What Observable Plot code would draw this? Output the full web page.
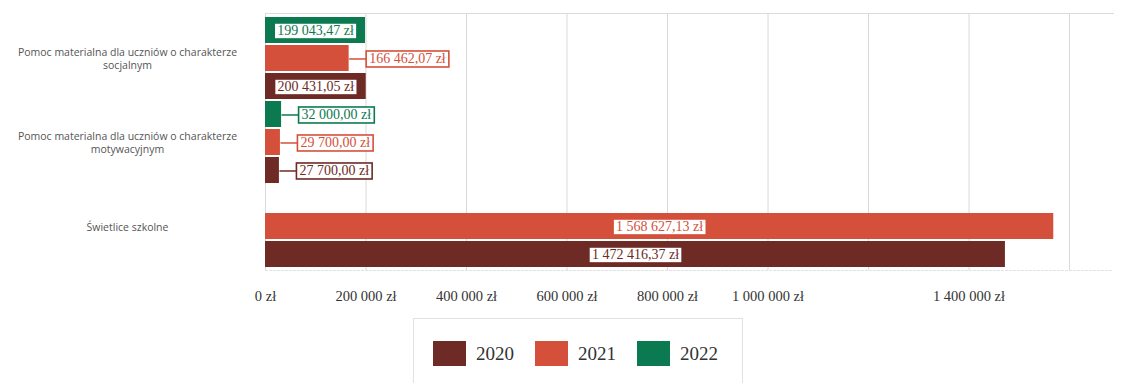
<!DOCTYPE html>
<html><head><meta charset="utf-8">
<script src="https://cdn.jsdelivr.net/npm/d3@7"></script>
<script src="https://cdn.jsdelivr.net/npm/@observablehq/plot@0.6"></script>
<style>
body{margin:0;background:#fff;}
#chart svg{display:block;}
#legend{margin-left:413px;margin-top:6px;width:330px;height:65px;border:1px solid #e2e2e2;border-bottom:none;box-sizing:border-box;position:relative;}
.item{position:absolute;top:22px;display:flex;align-items:center;}
.sw{width:33px;height:25px;margin-right:10px;}
.lab{font-family:"Liberation Serif",serif;font-size:19px;color:#333;}
</style></head><body><div id="chart"></div><div id="legend"></div>
<script>
const categories = [
  "Pomoc materialna dla uczniów o charakterze socjalnym",
  "Pomoc materialna dla uczniów o charakterze motywacyjnym",
  "Świetlice szkolne"
];
const categoryLabels = [
  "Pomoc materialna dla uczniów o charakterze\nsocjalnym",
  "Pomoc materialna dla uczniów o charakterze\nmotywacyjnym",
  "Świetlice szkolne"
];
const years = ["2020", "2021", "2022"];
const colors = ["#6e2a25", "#d4503a", "#0c7a50"];
const values2020 = [200431.05, 27700.00, 1472416.37];
const values2021 = [166462.07, 29700.00, 1568627.13];
const values2022 = [199043.47, 32000.00, 0];
const gridTicks = [0, 200000, 400000, 600000, 800000, 1000000, 1200000, 1400000, 1600000];
const tickLabelValues = [0, 200000, 400000, 600000, 800000, 1000000, 1400000];
const xMax = 1687500;

const W = 1123, H = 312, ML = 265, MR = 10, MT = 13, MB = 42, LEAD = 20;
const loc = d3.formatLocale({decimal: ",", thousands: " ", grouping: [3], currency: ["", " zł"]});
const fmtVal = v => loc.format(",.2f")(v) + " zł";
const fmtTick = v => loc.format(",d")(v) + " zł";

const series = {"2020": values2020, "2021": values2021, "2022": values2022};
const data = [];
categories.forEach((c, i) => {
  for (const y of years) data.push({cat: c, year: y, value: series[y][i], key: c + "|" + y});
});
const yDomain = [];
for (const c of categories) for (const y of ["2022", "2021", "2020"]) yDomain.push(c + "|" + y);

const pxPerUnit = (W - ML - MR) / xMax;
const labeled = data.filter(d => d.value > 0);
const inside = labeled.filter(d => d.value * pxPerUnit > 95);
const outside = labeled.filter(d => d.value * pxPerUnit <= 95);

const chart = Plot.plot({
  width: W, height: H,
  marginLeft: ML, marginRight: MR, marginTop: MT, marginBottom: MB,
  style: {fontFamily: "'Liberation Serif', serif", fontSize: "14.5px", color: "#333", background: "#fff"},
  x: {domain: [0, xMax], ticks: tickLabelValues, tickFormat: fmtTick, tickSize: 0, tickPadding: 20, label: null},
  y: {domain: yDomain, axis: null, paddingInner: 0.08, paddingOuter: 0.06},
  color: {domain: years, range: colors},
  marks: [
    Plot.frame({anchor: "top", stroke: "#dcdcdc"}),
    Plot.frame({anchor: "bottom", stroke: "#e2e2e2", strokeDasharray: "2,2"}),
    Plot.ruleX(gridTicks, {stroke: "#d9d9d9"}),
    Plot.barX(data, {x: "value", y: "key", fill: "year"}),
    Plot.text(categories, {
      y: c => c + "|2021", text: (c, i) => categoryLabels[i],
      frameAnchor: "left", dx: -138, textAnchor: "middle", lineAnchor: "middle",
      fontFamily: "'Open Sans', sans-serif", fontSize: 10.5, fill: "#555", lineHeight: 1.2
    }),
    Plot.text(inside, {
      x: d => d.value / 2, y: "key", text: d => fmtVal(d.value), fill: "year",
      textAnchor: "middle", fontSize: 14, className: "lab-in"
    }),
    Plot.text(outside, {
      x: "value", y: "key", text: d => fmtVal(d.value), fill: "year",
      textAnchor: "start", dx: LEAD, fontSize: 14, className: "lab-out"
    })
  ]
});
document.getElementById("chart").append(chart);

const NS = "http://www.w3.org/2000/svg";
for (const g of chart.querySelectorAll("g.lab-in, g.lab-out")) {
  const out = g.classList.contains("lab-out");
  for (const t of g.querySelectorAll("text")) {
    const b = t.getBBox();
    const tr = t.getAttribute("transform") || "";
    const col = t.getAttribute("fill") || g.getAttribute("fill");
    const r = document.createElementNS(NS, "rect");
    r.setAttribute("x", b.x - 3); r.setAttribute("y", b.y);
    r.setAttribute("width", b.width + 6); r.setAttribute("height", b.height + 1);
    r.setAttribute("fill", "#fff"); r.setAttribute("stroke", col); r.setAttribute("stroke-width", 1.6);
    r.setAttribute("transform", tr);
    g.insertBefore(r, t);
    if (out) {
      const l = document.createElementNS(NS, "line");
      const cy = b.y + b.height / 2 + 0.5;
      l.setAttribute("x1", -LEAD); l.setAttribute("x2", b.x - 3);
      l.setAttribute("y1", cy); l.setAttribute("y2", cy);
      l.setAttribute("stroke", col); l.setAttribute("stroke-width", 1.5);
      l.setAttribute("transform", tr);
      g.insertBefore(l, r);
    }
  }
}

const legend = document.getElementById("legend");
years.forEach((y, i) => {
  const it = document.createElement("div");
  it.className = "item";
  it.style.left = (19 + i * 102) + "px";
  const sw = document.createElement("div");
  sw.className = "sw"; sw.style.background = colors[i];
  const lb = document.createElement("span");
  lb.className = "lab"; lb.textContent = y;
  it.append(sw, lb);
  legend.append(it);
});
</script></body></html>
